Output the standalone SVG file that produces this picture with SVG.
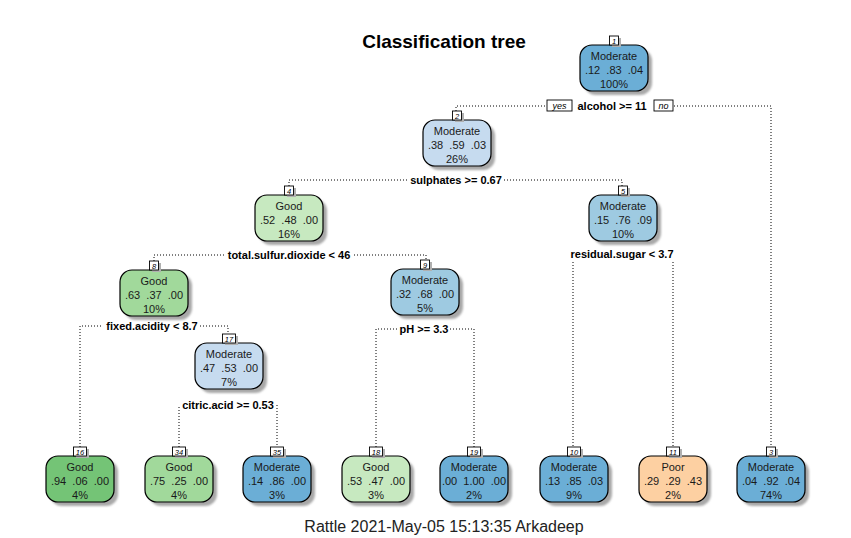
<svg xmlns="http://www.w3.org/2000/svg" width="851" height="538" viewBox="0 0 851 538">
<defs>
<filter id="blur" x="-20%" y="-20%" width="140%" height="140%"><feGaussianBlur stdDeviation="1.2"/></filter>
<style>
.bg{fill:#ffffff}
.sh{fill:#a8a8a8;filter:url(#blur)}
.box{stroke:#000;stroke-width:1.2}
.nb{fill:#fff;stroke:#000;stroke-width:0.9}
.nsh{fill:#b0b0b0}
.nl{font-family:"Liberation Sans",Arial,sans-serif;font-size:7.5px;font-style:italic;text-anchor:middle;fill:#000}
.t{font-family:"Liberation Sans",Arial,sans-serif;font-size:11px;text-anchor:middle;fill:#1a1a1a;white-space:pre}
.sp{font-family:"Liberation Sans",Arial,sans-serif;font-size:11px;font-weight:bold;text-anchor:middle;fill:#000}
.yn{font-family:"Liberation Sans",Arial,sans-serif;font-size:9px;font-style:italic;text-anchor:middle;fill:#000}
.con{fill:none;stroke:#000;stroke-width:1;stroke-dasharray:1 2}
.db{fill:#6BAED6}.mb{fill:#9ECAE1}.lb{fill:#C6DBEF}
.dg{fill:#74C476}.mg{fill:#A1D99B}.lg{fill:#C7E9C0}.or{fill:#FDD0A2}
</style>
</defs>
<rect class="bg" x="0" y="0" width="851" height="538"/>
<text x="444" y="48" font-family="Liberation Sans,Arial,sans-serif" font-size="19" font-weight="bold" text-anchor="middle" fill="#000">Classification tree</text>
<text x="444" y="532" font-family="Liberation Sans,Arial,sans-serif" font-size="16" text-anchor="middle" fill="#222">Rattle 2021-May-05 15:13:35 Arkadeep</text>

<g id="connectors">
<path class="con" d="M456,111 V106 H546"/>
<path class="con" d="M674,106 H771 V447"/>
<path class="con" d="M289,186 V180 H408"/>
<path class="con" d="M504,180 H622 V186"/>
<path class="con" d="M154,261 V255 H224"/>
<path class="con" d="M354,255 H426 V260"/>
<path class="con" d="M573,262 V447"/>
<path class="con" d="M673,262 V447"/>
<path class="con" d="M80,447 V326 H103"/>
<path class="con" d="M200,326 H228 V334"/>
<path class="con" d="M376,447 V329 H398"/>
<path class="con" d="M450,329 H474 V447"/>
<path class="con" d="M179,447 V405"/>
<path class="con" d="M277,405 V447"/>
<rect class="nb" x="547" y="100" width="25" height="11"/>
<text class="yn" x="559.5" y="108.5">yes</text>
<rect class="nb" x="654" y="100" width="19" height="11"/>
<text class="yn" x="663.5" y="108.5">no</text>
</g>

<g id="splits">
<text class="sp" x="612" y="110">alcohol &gt;= 11</text>
<text class="sp" x="456" y="184">sulphates &gt;= 0.67</text>
<text class="sp" x="289" y="259">total.sulfur.dioxide &lt; 46</text>
<text class="sp" x="622" y="258">residual.sugar &lt; 3.7</text>
<text class="sp" x="152" y="330">fixed.acidity &lt; 8.7</text>
<text class="sp" x="424" y="333">pH &gt;= 3.3</text>
<text class="sp" x="228" y="409">citric.acid &gt;= 0.53</text>
</g>

<g id="node1">
<rect class="sh" x="584" y="49" width="68" height="46" rx="12"/>
<rect class="box db" x="580" y="45" width="68" height="46" rx="12"/>
<rect class="nsh" x="612" y="38" width="9" height="9"/>
<rect class="nb" x="609.5" y="36" width="9" height="9"/>
<text class="nl" x="614" y="43.5">1</text>
<text class="t" x="614" y="60">Moderate</text>
<text class="t" x="614" y="74">.12  .83  .04</text>
<text class="t" x="614" y="88">100%</text>
</g>

<g id="node2">
<rect class="sh" x="427" y="124" width="68" height="46" rx="12"/>
<rect class="box lb" x="423" y="120" width="68" height="46" rx="12"/>
<rect class="nsh" x="455" y="113" width="9" height="9"/>
<rect class="nb" x="452.5" y="111" width="9" height="9"/>
<text class="nl" x="457" y="118.5">2</text>
<text class="t" x="457" y="135">Moderate</text>
<text class="t" x="457" y="149">.38  .59  .03</text>
<text class="t" x="457" y="163">26%</text>
</g>

<g id="node4">
<rect class="sh" x="259" y="199" width="68" height="46" rx="12"/>
<rect class="box lg" x="255" y="195" width="68" height="46" rx="12"/>
<rect class="nsh" x="287" y="188" width="9" height="9"/>
<rect class="nb" x="284.5" y="186" width="9" height="9"/>
<text class="nl" x="289" y="193.5">4</text>
<text class="t" x="289" y="210">Good</text>
<text class="t" x="289" y="224">.52  .48  .00</text>
<text class="t" x="289" y="238">16%</text>
</g>

<g id="node5">
<rect class="sh" x="593" y="199" width="68" height="46" rx="12"/>
<rect class="box mb" x="589" y="195" width="68" height="46" rx="12"/>
<rect class="nsh" x="621" y="188" width="9" height="9"/>
<rect class="nb" x="618.5" y="186" width="9" height="9"/>
<text class="nl" x="623" y="193.5">5</text>
<text class="t" x="623" y="210">Moderate</text>
<text class="t" x="623" y="224">.15  .76  .09</text>
<text class="t" x="623" y="238">10%</text>
</g>

<g id="node8">
<rect class="sh" x="124" y="274" width="68" height="46" rx="12"/>
<rect class="box mg" x="120" y="270" width="68" height="46" rx="12"/>
<rect class="nsh" x="152" y="263" width="9" height="9"/>
<rect class="nb" x="149.5" y="261" width="9" height="9"/>
<text class="nl" x="154" y="268.5">8</text>
<text class="t" x="154" y="285">Good</text>
<text class="t" x="154" y="299">.63  .37  .00</text>
<text class="t" x="154" y="313">10%</text>
</g>

<g id="node9">
<rect class="sh" x="395" y="273" width="68" height="46" rx="12"/>
<rect class="box mb" x="391" y="269" width="68" height="46" rx="12"/>
<rect class="nsh" x="423" y="262" width="9" height="9"/>
<rect class="nb" x="420.5" y="260" width="9" height="9"/>
<text class="nl" x="425" y="267.5">9</text>
<text class="t" x="425" y="284">Moderate</text>
<text class="t" x="425" y="298">.32  .68  .00</text>
<text class="t" x="425" y="312">5%</text>
</g>

<g id="node17">
<rect class="sh" x="199" y="347" width="68" height="46" rx="12"/>
<rect class="box lb" x="195" y="343" width="68" height="46" rx="12"/>
<rect class="nsh" x="225" y="336" width="13" height="9"/>
<rect class="nb" x="222.5" y="334" width="13" height="9"/>
<text class="nl" x="229" y="341.5">17</text>
<text class="t" x="229" y="358">Moderate</text>
<text class="t" x="229" y="372">.47  .53  .00</text>
<text class="t" x="229" y="386">7%</text>
</g>

<g id="node16">
<rect class="sh" x="50" y="460" width="68" height="46" rx="12"/>
<rect class="box dg" x="46" y="456" width="68" height="46" rx="12"/>
<rect class="nsh" x="76" y="449" width="13" height="9"/>
<rect class="nb" x="73.5" y="447" width="13" height="9"/>
<text class="nl" x="80" y="454.5">16</text>
<text class="t" x="80" y="471">Good</text>
<text class="t" x="80" y="485">.94  .06  .00</text>
<text class="t" x="80" y="499">4%</text>
</g>

<g id="node34">
<rect class="sh" x="149" y="460" width="68" height="46" rx="12"/>
<rect class="box mg" x="145" y="456" width="68" height="46" rx="12"/>
<rect class="nsh" x="175" y="449" width="13" height="9"/>
<rect class="nb" x="172.5" y="447" width="13" height="9"/>
<text class="nl" x="179" y="454.5">34</text>
<text class="t" x="179" y="471">Good</text>
<text class="t" x="179" y="485">.75  .25  .00</text>
<text class="t" x="179" y="499">4%</text>
</g>

<g id="node35">
<rect class="sh" x="247" y="460" width="68" height="46" rx="12"/>
<rect class="box db" x="243" y="456" width="68" height="46" rx="12"/>
<rect class="nsh" x="273" y="449" width="13" height="9"/>
<rect class="nb" x="270.5" y="447" width="13" height="9"/>
<text class="nl" x="277" y="454.5">35</text>
<text class="t" x="277" y="471">Moderate</text>
<text class="t" x="277" y="485">.14  .86  .00</text>
<text class="t" x="277" y="499">3%</text>
</g>

<g id="node18">
<rect class="sh" x="346" y="460" width="68" height="46" rx="12"/>
<rect class="box lg" x="342" y="456" width="68" height="46" rx="12"/>
<rect class="nsh" x="372" y="449" width="13" height="9"/>
<rect class="nb" x="369.5" y="447" width="13" height="9"/>
<text class="nl" x="376" y="454.5">18</text>
<text class="t" x="376" y="471">Good</text>
<text class="t" x="376" y="485">.53  .47  .00</text>
<text class="t" x="376" y="499">3%</text>
</g>

<g id="node19">
<rect class="sh" x="444" y="460" width="68" height="46" rx="12"/>
<rect class="box db" x="440" y="456" width="68" height="46" rx="12"/>
<rect class="nsh" x="470" y="449" width="13" height="9"/>
<rect class="nb" x="467.5" y="447" width="13" height="9"/>
<text class="nl" x="474" y="454.5">19</text>
<text class="t" x="474" y="471">Moderate</text>
<text class="t" x="474" y="485">.00  1.00  .00</text>
<text class="t" x="474" y="499">2%</text>
</g>

<g id="node10">
<rect class="sh" x="544" y="460" width="68" height="46" rx="12"/>
<rect class="box db" x="540" y="456" width="68" height="46" rx="12"/>
<rect class="nsh" x="570" y="449" width="13" height="9"/>
<rect class="nb" x="567.5" y="447" width="13" height="9"/>
<text class="nl" x="574" y="454.5">10</text>
<text class="t" x="574" y="471">Moderate</text>
<text class="t" x="574" y="485">.13  .85  .03</text>
<text class="t" x="574" y="499">9%</text>
</g>

<g id="node11">
<rect class="sh" x="643" y="460" width="68" height="46" rx="12"/>
<rect class="box or" x="639" y="456" width="68" height="46" rx="12"/>
<rect class="nsh" x="669" y="449" width="13" height="9"/>
<rect class="nb" x="666.5" y="447" width="13" height="9"/>
<text class="nl" x="673" y="454.5">11</text>
<text class="t" x="673" y="471">Poor</text>
<text class="t" x="673" y="485">.29  .29  .43</text>
<text class="t" x="673" y="499">2%</text>
</g>

<g id="node3">
<rect class="sh" x="741" y="460" width="68" height="46" rx="12"/>
<rect class="box db" x="737" y="456" width="68" height="46" rx="12"/>
<rect class="nsh" x="769" y="449" width="9" height="9"/>
<rect class="nb" x="766.5" y="447" width="9" height="9"/>
<text class="nl" x="771" y="454.5">3</text>
<text class="t" x="771" y="471">Moderate</text>
<text class="t" x="771" y="485">.04  .92  .04</text>
<text class="t" x="771" y="499">74%</text>
</g>
</svg>
